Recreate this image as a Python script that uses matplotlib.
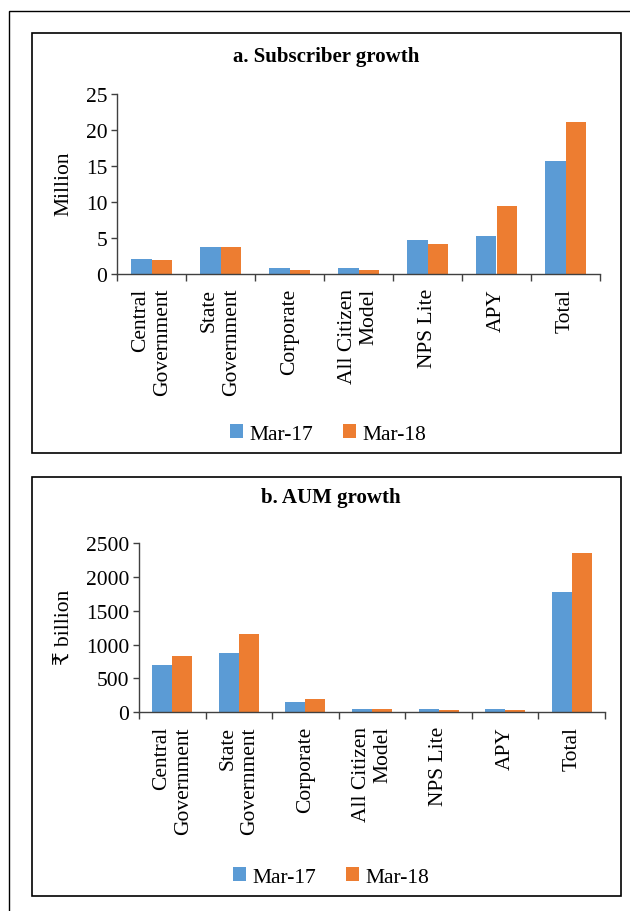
import matplotlib
matplotlib.use("Agg")
import matplotlib.pyplot as plt
from matplotlib.patches import Rectangle
import numpy as np

categories = ["Central\nGovernment", "State\nGovernment", "Corporate",
              "All Citizen\nModel", "NPS Lite", "APY", "Total"]
series_names = ["Mar-17", "Mar-18"]

subs_mar17 = [2.1, 3.7, 0.8, 0.8, 4.7, 5.3, 15.7]
subs_mar18 = [1.9, 3.7, 0.6, 0.6, 4.2, 9.4, 21.1]

aum_mar17 = [700, 876, 158, 44, 44, 44, 1772]
aum_mar18 = [836, 1152, 201, 44, 30, 30, 2348]

title_a = "a. Subscriber growth"
title_b = "b. AUM growth"
ylabel_a = "Million"
ylabel_b = "\u20b9 billion"
yticks_a = [0, 5, 10, 15, 20, 25]
yticks_b = [0, 500, 1000, 1500, 2000, 2500]

BLUE = "#5B9BD5"
ORANGE = "#ED7D31"
AX = "#404040"
FAM = ["Liberation Serif", "DejaVu Serif", "DejaVu Sans"]
plt.rcParams['font.family'] = FAM

W, H = 630, 912
fig = plt.figure(figsize=(W / 100, H / 100), dpi=100)


def fx(px):
    return px / W


def fy(py):
    return 1 - py / H


def rect(x0, y0, x1, y1, lw):
    fig.patches.append(Rectangle((fx(x0), fy(y1)), fx(x1 - x0), (y1 - y0) / H,
                                 transform=fig.transFigure, fill=False,
                                 edgecolor="black", linewidth=lw, zorder=0))


# outer frame and panel boxes
rect(9, 12, 640, 925, 1.0)
rect(32, 34, 621, 454, 1.2)
rect(32, 478, 621, 897, 1.2)


def panel(box, v17, v18, yticks, ylabel, title, title_xy, ylabel_xy, legend_xy):
    ax = fig.add_axes(box)
    x = np.arange(len(categories))
    w = 0.3
    b1 = ax.bar(x - w / 2, v17, width=w, color=BLUE, label=series_names[0], zorder=2)
    b2 = ax.bar(x + w / 2, v18, width=w, color=ORANGE, label=series_names[1], zorder=2)
    ax.set_xlim(-0.5, len(categories) - 0.5)
    ax.set_ylim(yticks[0], yticks[-1])
    ax.set_yticks(yticks)
    ax.set_yticklabels([str(t) for t in yticks], fontsize=15.5)
    for s in ["top", "right"]:
        ax.spines[s].set_visible(False)
    for s in ["left", "bottom"]:
        ax.spines[s].set_color(AX)
        ax.spines[s].set_linewidth(1.0)
    ax.tick_params(axis="y", length=4, width=1.0, color=AX, pad=3, direction="out")
    ax.set_xticks(np.arange(-0.5, len(categories), 1.0), minor=True)
    ax.set_xticks(x)
    ax.set_xticklabels(categories, rotation=90, fontsize=15.5, va="top",
                       ha="center", multialignment="right")
    ax.tick_params(axis="x", which="major", length=0, pad=10)
    ax.tick_params(axis="x", which="minor", length=5, width=1.0, color=AX,
                   direction="out")
    fig.text(title_xy[0], title_xy[1], title, fontsize=15, fontweight="bold",
             ha="center", va="center")
    fig.text(ylabel_xy[0], ylabel_xy[1], ylabel, fontsize=15.5, rotation=90,
             ha="center", va="center")
    fig.legend([b1, b2], series_names, loc="center", bbox_to_anchor=legend_xy,
               ncol=2, frameon=False, fontsize=15.5, handlelength=0.6,
               handleheight=0.6, handletextpad=0.3, columnspacing=1.4,
               borderpad=0)
    return ax


panel([fx(117), fy(275), fx(600) - fx(117), (275 - 95) / H],
      subs_mar17, subs_mar18, yticks_a, ylabel_a, title_a,
      (fx(326), fy(57)), (fx(64), fy(184)), (fx(328), fy(435)))

panel([fx(139), fy(713.3), fx(605) - fx(139), (713.3 - 544) / H],
      aum_mar17, aum_mar18, yticks_b, ylabel_b, title_b,
      (fx(331), fy(498)), (fx(65), fy(627)), (fx(331), fy(878)))

fig.savefig("out.png", dpi=100)
